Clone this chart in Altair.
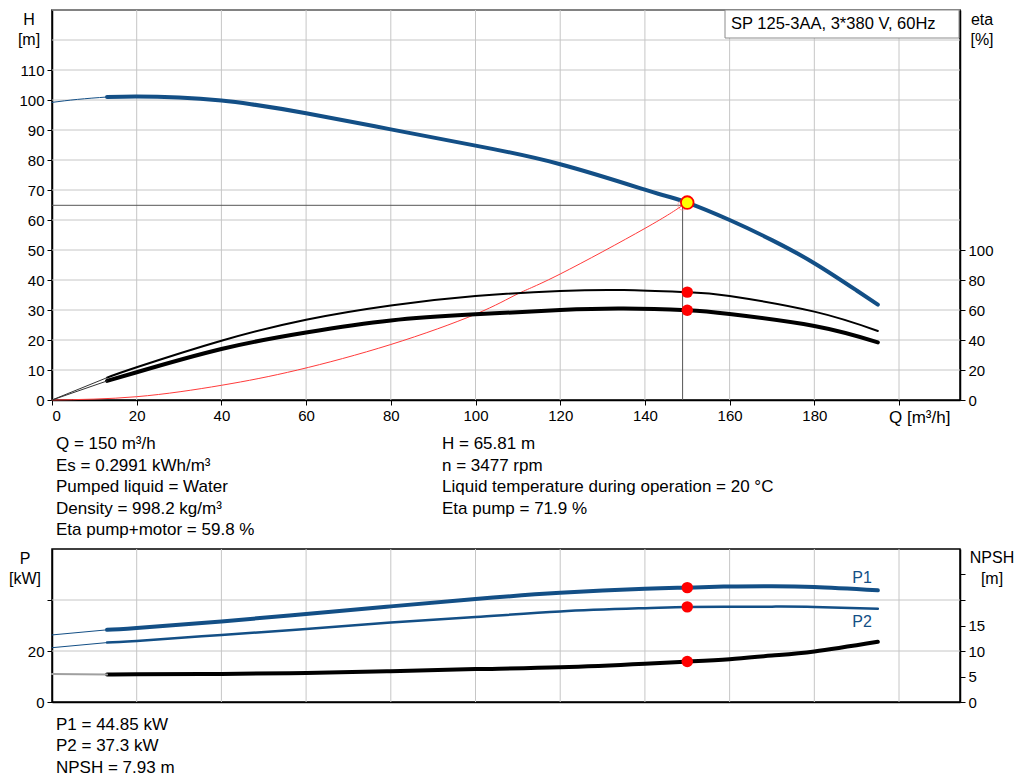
import altair as alt
import pandas as pd

FONT = "Liberation Sans"
BLUE = "#134f86"
GRID = "#c6c6c6"
W, H1, H2 = 908, 390, 153

# ---------------- data: upper panel ----------------
Q_TICKS = [0, 20, 40, 60, 80, 100, 120, 140, 160, 180, 200]
H_TICKS = [0, 10, 20, 30, 40, 50, 60, 70, 80, 90, 100, 110, 120, 130]
ETA_TICKS = [0, 20, 40, 60, 80, 100]

H_EXT_Q = [0, 6, 13]
H_EXT_V = [99.2, 100.2, 101.0]
H_Q = [13, 20, 30, 40, 47, 60, 80, 100, 120, 140, 145, 150, 160, 170, 180, 190, 195]
H_V = [101.0, 101.2, 100.8, 99.8, 98.6, 95.6, 90.2, 84.8, 78.6, 70.1, 68.0, 65.8, 60.0, 53.3, 45.6, 36.5, 31.8]

ETA_EXT_Q = [0, 13]
ETA_P_EXT = [0, 14.9]
ETA_PM_EXT = [0, 12.7]
ETA_Q = [13, 20, 40, 60, 80, 100, 120, 135, 150, 160, 180, 195]
ETA_P = [14.9, 21.8, 39.5, 53.5, 63.0, 69.3, 72.7, 73.3, 71.9, 69.3, 58.9, 46.0]
ETA_PM = [12.7, 18.5, 34.0, 45.0, 53.0, 57.1, 60.0, 61.0, 59.8, 57.3, 49.3, 38.4]

SYS_Q = [0, 20, 40, 58, 80, 100, 110, 120, 140, 148.9]
SYS_H = [0, 1.1, 4.9, 10.0, 18.5, 28.6, 35.4, 42.0, 57.2, 64.9]

REF_Q = 148.9
REF_H = 64.9
OP_Q = 150
OP_H = 65.81
OP_ETA = [71.9, 59.8]

# ---------------- data: lower panel ----------------
P_TICKS = [0, 20, 40]
N_TICKS = [0, 5, 10, 15, 20, 25]
EXT_Q = [0, 13]
P1_EXT = [26.3, 28.3]
P2_EXT = [21.3, 23.3]
NPSH_EXT = [5.5, 5.4]
P_Q = [13, 20, 40, 60, 80, 100, 120, 140, 150, 160, 170, 180, 195]
P1 = [28.3, 29.0, 31.6, 34.5, 37.5, 40.4, 42.8, 44.4, 44.85, 45.3, 45.4, 45.1, 43.8]
P2 = [23.3, 23.9, 26.3, 28.6, 31.2, 33.3, 35.5, 36.8, 37.3, 37.4, 37.4, 37.3, 36.6]
NPSH = [5.4, 5.45, 5.5, 5.7, 6.05, 6.45, 6.8, 7.5, 7.93, 8.4, 9.1, 9.9, 11.8]
OP_P = [44.85, 37.3]
OP_NPSH = 7.93

TITLE_BOX = "SP 125-3AA, 3*380 V, 60Hz"
INFO_LEFT = ["Q = 150 m³/h", "Es = 0.2991 kWh/m³", "Pumped liquid = Water",
             "Density = 998.2 kg/m³", "Eta pump+motor = 59.8 %"]
INFO_RIGHT = ["H = 65.81 m", "n = 3477 rpm",
              "Liquid temperature during operation = 20 °C", "Eta pump = 71.9 %"]
INFO_LOW = ["P1 = 44.85 kW", "P2 = 37.3 kW", "NPSH = 7.93 m"]

XS = alt.Scale(domain=[0, 214.4], nice=False, zero=False)
HS = alt.Scale(domain=[0, 130], nice=False)
ES = alt.Scale(domain=[0, 260], nice=False)
PS = alt.Scale(domain=[0, 60], nice=False)
NS = alt.Scale(domain=[0, 30], nice=False)

# axes (every layer of a panel gets the same axis so they merge cleanly)
X_TOP = alt.Axis(values=Q_TICKS, grid=False, title=None,
                 labelExpr="datum.value == 200 ? '' : datum.label")
Y_H = alt.Axis(values=H_TICKS, grid=False, title=None,
               labelExpr="datum.value > 110 ? '' : datum.label",
               tickOpacity={"condition": {"test": "datum.value > 110", "value": 0}, "value": 1})
Y_ETA = alt.Axis(values=ETA_TICKS, grid=False, title=None, orient="right")
X_LOW = alt.Axis(values=Q_TICKS, grid=False, title=None, labels=False, ticks=False)
Y_P = alt.Axis(values=P_TICKS, grid=False, title=None,
               labelExpr="datum.value == 40 ? '' : datum.label")
Y_N = alt.Axis(values=N_TICKS, grid=False, title=None, orient="right",
               labelExpr="datum.value >= 20 ? '' : datum.label")


def line(qs, vs, scale, color, width, ax, ay, interp="natural"):
    df = pd.DataFrame({"q": qs, "v": vs})
    return alt.Chart(df).mark_line(color=color, strokeWidth=width, interpolate=interp,
                                   strokeCap="round").encode(
        x=alt.X("q:Q", scale=XS, axis=ax),
        y=alt.Y("v:Q", scale=scale, axis=ay),
    )


def dots(qs, vs, scale, fill, size, ax, ay, stroke=None, sw=0):
    df = pd.DataFrame({"q": qs, "v": vs})
    kw = dict(color=fill, size=size, opacity=1)
    if stroke:
        kw.update(stroke=stroke, strokeWidth=sw)
    return alt.Chart(df).mark_circle(**kw).encode(
        x=alt.X("q:Q", scale=XS, axis=ax),
        y=alt.Y("v:Q", scale=scale, axis=ay),
    )


def vgrid(ticks, ax):
    return alt.Chart(pd.DataFrame({"q": ticks})).mark_rule(color=GRID, strokeWidth=1).encode(
        x=alt.X("q:Q", scale=XS, axis=ax))


def hgrid(ticks, scale, ay):
    return alt.Chart(pd.DataFrame({"v": ticks})).mark_rule(color=GRID, strokeWidth=1).encode(
        y=alt.Y("v:Q", scale=scale, axis=ay))


def label(text, x, y, align="left", size=17, color="black"):
    return alt.Chart(pd.DataFrame({"t": [text]})).mark_text(
        align=align, baseline="middle", font=FONT, fontSize=size, color=color
    ).encode(x=alt.value(x), y=alt.value(y), text="t:N")


# ---------------- upper panel ----------------
h_main = line(H_Q, H_V, HS, BLUE, 4, X_TOP, Y_H)
h_ext = line(H_EXT_Q, H_EXT_V, HS, BLUE, 1, X_TOP, Y_H)
sys_curve = line(SYS_Q, SYS_H, HS, "#ff3b3b", 1, X_TOP, Y_H)

vrule = alt.Chart(pd.DataFrame({"q": [REF_Q], "a": [0], "b": [REF_H]})).mark_rule(
    color="#555555", strokeWidth=1).encode(
    x=alt.X("q:Q", scale=XS, axis=X_TOP), y=alt.Y("a:Q", scale=HS, axis=Y_H), y2="b:Q")
hrule = alt.Chart(pd.DataFrame({"a": [0], "b": [REF_Q], "h": [REF_H]})).mark_rule(
    color="#555555", strokeWidth=1).encode(
    x=alt.X("a:Q", scale=XS, axis=X_TOP), x2="b:Q", y=alt.Y("h:Q", scale=HS, axis=Y_H))
ghost = alt.Chart(pd.DataFrame({"q": [REF_Q], "v": [REF_H]})).mark_point(
    filled=False, color="#ff8a8a", size=90, strokeWidth=1).encode(
    x=alt.X("q:Q", scale=XS, axis=X_TOP), y=alt.Y("v:Q", scale=HS, axis=Y_H))
op_point = dots([OP_Q], [OP_H], HS, "#ffff00", 160, X_TOP, Y_H, stroke="#ff0000", sw=1.8)

box = alt.Chart(pd.DataFrame({"t": [TITLE_BOX]})).mark_rect(
    fill="white", stroke="#8c8c8c", strokeWidth=1).encode(
    x=alt.value(673), x2=alt.value(907), y=alt.value(0), y2=alt.value(28))

texts_top = [
    box,
    label(TITLE_BOX, 679, 14, size=16.5),
    label("H", -23, 10, align="center", size=16),
    label("[m]", -23, 30, align="center", size=16),
    label("eta", 930, 10, align="center", size=16),
    label("[%]", 930, 30, align="center", size=16),
    label("Q [m³/h]", 837, 408, size=17),
]
for i, t in enumerate(INFO_LEFT):
    texts_top.append(label(t, 4, 434 + 21.5 * i))
for i, t in enumerate(INFO_RIGHT):
    texts_top.append(label(t, 390, 434 + 21.5 * i))

h_group = alt.layer(
    vgrid(Q_TICKS[1:], X_TOP), hgrid(H_TICKS[1:], HS, Y_H),
    h_main, h_ext, sys_curve, vrule, hrule, ghost, op_point, *texts_top)

eta_group = alt.layer(
    line(ETA_Q, ETA_P, ES, "black", 2, X_TOP, Y_ETA),
    line(ETA_Q, ETA_PM, ES, "black", 4, X_TOP, Y_ETA),
    line(ETA_EXT_Q, ETA_P_EXT, ES, "#333333", 1, X_TOP, Y_ETA),
    line(ETA_EXT_Q, ETA_PM_EXT, ES, "#333333", 1, X_TOP, Y_ETA),
    dots([OP_Q, OP_Q], OP_ETA, ES, "#ff0000", 130, X_TOP, Y_ETA),
)

top = alt.layer(h_group, eta_group).resolve_scale(y="independent").properties(width=W, height=H1)

# ---------------- lower panel ----------------
p_group = alt.layer(
    vgrid(Q_TICKS[1:], X_LOW), hgrid(P_TICKS[1:], PS, Y_P),
    line(P_Q, P1, PS, BLUE, 4, X_LOW, Y_P),
    line(P_Q, P2, PS, BLUE, 2.5, X_LOW, Y_P),
    line(EXT_Q, P1_EXT, PS, BLUE, 1, X_LOW, Y_P),
    line(EXT_Q, P2_EXT, PS, BLUE, 1, X_LOW, Y_P),
    dots([OP_Q, OP_Q], OP_P, PS, "#ff0000", 130, X_LOW, Y_P),
    label("P1", 810, 29, align="center", size=16, color=BLUE),
    label("P2", 810, 73, align="center", size=16, color=BLUE),
    label("P", -27, 10, align="center", size=16),
    label("[kW]", -27, 30, align="center", size=16),
    label("NPSH", 940, 9, align="center", size=16),
    label("[m]", 940, 30, align="center", size=16),
    *[label(t, 4, 175.5 + 21.5 * i) for i, t in enumerate(INFO_LOW)],
)

n_group = alt.layer(
    line(P_Q, NPSH, NS, "black", 4, X_LOW, Y_N),
    line(EXT_Q, NPSH_EXT, NS, "#a0a0a0", 2, X_LOW, Y_N),
    dots([OP_Q], [OP_NPSH], NS, "#ff0000", 130, X_LOW, Y_N),
)

bottom = alt.layer(p_group, n_group).resolve_scale(y="independent").properties(width=W, height=H2)

chart = alt.vconcat(top, bottom, spacing=149, bounds="flush").properties(
    padding={"left": 0, "top": 0, "right": 0, "bottom": 0}
).configure_view(
    stroke="black", strokeWidth=1.5
).configure_axis(
    domainColor="black", domainWidth=1.5, tickColor="black", tickWidth=1, tickSize=5,
    labelColor="black", labelFont=FONT, labelFontSize=15, labelPadding=3,
)

chart.save("out.html", embed_options={"renderer": "svg", "actions": False})
